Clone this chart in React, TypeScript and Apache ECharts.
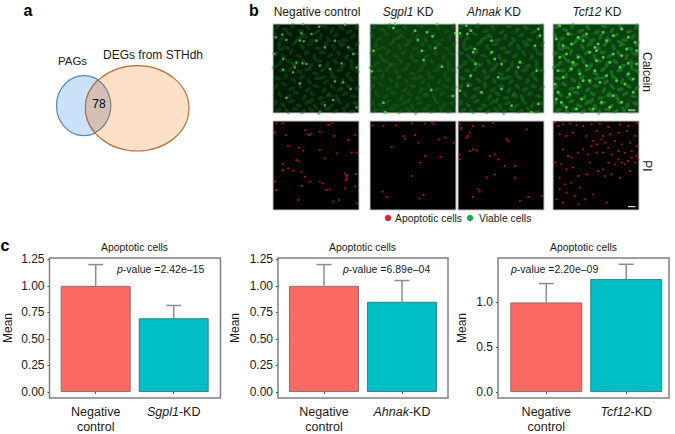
import React, { useEffect, useRef } from "react";
import * as echarts from "echarts";

const FONT = "'Liberation Sans', Arial, sans-serif";

// Panel c: bar charts
const comparisonNames = ["Sgpl1", "Ahnak", "Tcf12"];
const controlMean = [1.0, 1.0, 1.0];
const controlErrorTop = [1.2, 1.2, 1.21];
const knockdownMean = [0.695, 0.85, 1.26];
const knockdownErrorTop = [0.815, 1.05, 1.425];
const pValues = ["2.42e–15", "6.89e–04", "2.20e–09"];
const yTicksA = [0, 0.25, 0.5, 0.75, 1, 1.25];
const yTicksB = [0, 0.5, 1];

// Panel b: column and row names
const columnNames = ["Negative control", "Sgpl1", "Ahnak", "Tcf12"];
const vennCount = "78";

// Panel b: spots (field units, 257 x 267)
const calceinNegative = [[8,40],[28,32],[40,48],[4,90],[90,0],[138,8],[215,2],[85,28],[115,30],[80,50],[92,52],[130,50],[155,70],[185,50],[225,70],[240,90],[88,118],[100,120],[140,125],[30,137],[65,130],[60,145],[185,172],[210,175],[80,178],[40,222],[155,244],[180,228],[232,195],[140,265],[250,250],[30,105],[70,115],[205,118],[250,130],[170,135]];
const calceinSgpl1 = [[70,12],[135,20],[170,25],[187,37],[143,48],[10,80],[195,72],[155,80],[160,108],[215,128],[5,142],[183,198],[248,216],[40,236],[46,265],[200,0],[75,0],[255,28]];
const calceinAhnak = [[5,28],[25,5],[28,30],[38,20],[45,85],[50,75],[52,120],[100,85],[110,105],[130,120],[185,115],[230,65],[245,35],[240,15],[235,140],[38,155],[120,160],[30,185],[70,205],[160,245],[220,265],[240,240],[100,50],[180,130],[130,195],[5,200]];
const calceinTcf12 = [[10,45],[20,5],[30,65],[45,30],[55,60],[75,40],[90,50],[110,85],[125,70],[135,60],[150,25],[160,50],[180,35],[205,15],[225,40],[245,55],[250,80],[205,95],[225,118],[200,130],[170,115],[150,100],[125,140],[100,125],[60,115],[55,135],[20,100],[40,90],[15,140],[30,160],[80,150],[90,170],[75,190],[50,210],[15,205],[25,235],[10,225],[85,225],[110,170],[140,175],[160,155],[190,170],[215,180],[240,165],[180,215],[145,235],[170,250],[120,255],[70,255],[40,250],[240,205],[205,235],[225,150],[130,110],[5,180],[130,80],[100,30],[75,100],[180,90],[250,120],[220,75]];
const piNegative = [[10,7],[28,7],[5,35],[38,42],[97,27],[103,40],[110,42],[115,37],[140,32],[165,12],[175,7],[183,45],[225,57],[245,42],[45,75],[78,80],[90,89],[140,87],[190,97],[155,112],[235,95],[250,95],[70,117],[78,122],[30,129],[30,147],[45,142],[60,149],[85,152],[95,167],[110,182],[140,182],[150,187],[215,157],[222,162],[218,177],[248,159],[5,182],[10,207],[85,195],[160,207],[170,205],[75,237],[180,242],[198,237],[250,247],[215,202],[245,197],[218,165],[220,172]];
const piSgpl1 = [[8,13],[40,15],[78,13],[125,7],[165,8],[185,5],[100,45],[103,52],[135,42],[145,65],[205,55],[225,50],[250,65],[65,78],[165,105],[210,108],[150,125],[125,165],[38,212],[50,228],[148,232],[160,222],[190,10]];
const piAhnak = [[5,10],[10,25],[30,45],[35,35],[25,50],[45,15],[75,15],[105,5],[145,55],[205,25],[150,60],[35,90],[45,85],[55,88],[95,105],[110,100],[120,115],[5,115],[3,100],[170,135],[140,135],[110,160],[85,170],[170,170],[65,212],[45,228],[60,205],[210,228],[250,225],[185,240],[10,20]];
const piTcf12 = [[5,5],[15,15],[30,10],[50,8],[70,12],[90,15],[115,10],[140,8],[165,18],[200,10],[225,15],[250,5],[20,40],[40,45],[60,35],[100,45],[130,30],[150,45],[170,40],[195,35],[220,30],[245,45],[120,60],[130,70],[115,75],[145,55],[155,65],[165,80],[185,60],[205,70],[230,65],[250,75],[30,85],[45,105],[55,110],[75,95],[90,85],[105,100],[130,95],[150,95],[175,100],[195,90],[215,95],[235,90],[250,105],[195,115],[205,125],[215,130],[225,120],[235,110],[245,125],[255,115],[185,130],[165,125],[150,145],[135,150],[155,165],[175,160],[25,130],[40,145],[60,140],[20,170],[35,190],[55,185],[80,200],[20,205],[40,215],[65,225],[10,235],[30,245],[75,250],[95,235],[120,220],[160,245],[200,170],[230,150],[100,160],[75,165],[110,125],[5,125]];
// Dim elongated cell bodies behind the bright spots: x, y, angle
const cellBodies = [[12,9,40],[37,18,-30],[58,6,70],[83,21,15],[104,10,-55],[131,24,35],[152,7,-20],[176,19,60],[203,11,-40],[228,23,20],[249,8,75],[6,33,-65],[27,44,25],[49,30,-15],[72,47,50],[96,36,-35],[118,49,10],[142,38,65],[166,46,-50],[189,33,30],[214,48,-10],[240,37,55],[18,62,80],[41,71,-25],[63,58,35],[88,69,-60],[110,61,20],[134,73,-5],[157,60,45],[181,70,-70],[206,63,15],[231,74,-35],[252,60,60],[8,88,10],[31,97,-45],[54,84,65],[77,96,-20],[101,86,40],[124,99,-75],[148,85,5],[171,95,30],[196,87,-55],[220,99,70],[244,89,-15],[20,118,45],[44,110,-30],[67,122,15],[91,112,-65],[113,125,50],[138,111,-10],[162,121,75],[186,113,-40],[209,126,25],[235,114,-60],[5,128,30],[28,140,-5],[52,135,60],[79,143,-50],[103,136,20],[127,149,-25],[150,137,40],[175,147,-70],[199,139,10],[224,150,55],[250,140,-35],[14,163,-15],[38,156,70],[61,168,-40],[86,160,25],[109,172,-60],[133,163,5],[158,174,45],[183,161,-20],[207,172,65],[232,165,-45],[9,187,55],[33,181,-30],[56,194,15],[80,184,-75],[104,197,35],[128,186,-10],[152,199,60],[177,188,-50],[201,196,20],[226,187,-25],[251,192,40],[21,211,-55],[46,218,30],[69,206,-15],[94,220,65],[118,209,-35],[143,222,10],[166,211,50],[191,220,-65],[216,209,25],[241,217,-5],[7,236,70],[30,243,-40],[55,232,20],[78,245,-20],[102,235,45],[126,248,-60],[149,237,15],[174,246,35],[198,234,-45],[222,244,60],[247,238,-15],[16,258,25],[42,262,-50],[66,255,5],[90,263,40],[114,257,-30],[138,264,70],[162,256,-10],[187,262,30],[211,256,-55],[236,263,15],[60,120,-35],[150,160,20],[200,55,-25],[115,230,55],[25,75,5],[235,130,-70],[85,40,45],[170,215,-15]];

const micrographs = [
  { left: 273, top: 24, spots: calceinNegative, color: "#33d636", size: 2.6, base: "#031a06", body: "rgba(26,105,30,0.5)" },
  { left: 370, top: 24, spots: calceinSgpl1, color: "#45f046", size: 2.8, base: "#0a3c0e", body: "rgba(28,105,32,0.5)" },
  { left: 458, top: 24, spots: calceinAhnak, color: "#45f046", size: 2.8, base: "#0a380e", body: "rgba(32,120,36,0.55)" },
  { left: 553, top: 24, spots: calceinTcf12, color: "#4cf04e", size: 3, base: "#0b4210", body: "rgba(40,150,44,0.6)" },
  { left: 273, top: 121, spots: piNegative, color: "#e0141f", size: 2.2, base: "#000000", body: "" },
  { left: 370, top: 121, spots: piSgpl1, color: "#e0141f", size: 2.2, base: "#000000", body: "" },
  { left: 458, top: 121, spots: piAhnak, color: "#e0141f", size: 2.2, base: "#000000", body: "" },
  { left: 553, top: 121, spots: piTcf12, color: "#e0141f", size: 2.2, base: "#000000", body: "" },
];

const barPanels = [
  { left: 49.5, width: 171, ticks: yTicksA, decimals: 2, yMin: -0.056, yMax: 1.262, xMin: 0.408, xMax: 2.6, barW: 70, pX: 117, gap: 36 },
  { left: 278, width: 170, ticks: yTicksA, decimals: 2, yMin: -0.056, yMax: 1.262, xMin: 0.41, xMax: 2.59, barW: 70, pX: 343, gap: 37 },
  { left: 498, width: 171, ticks: yTicksB, decimals: 1, yMin: -0.066, yMax: 1.495, xMin: 0.396, xMax: 2.535, barW: 72, pX: 511, gap: 30 },
];

const lensPath = "M97.7 80 A27.5 30 0 0 1 95 132.7 A51.7 42.7 0 0 1 97.7 80 Z";
const blueArcPath = "M97.7 80 A27.5 30 0 0 1 95 132.7";
const orangeArcPath = "M95 132.7 A51.7 42.7 0 0 1 97.7 80";
echarts.graphic.registerShape("vennLens", echarts.graphic.extendPath(lensPath, {}));
echarts.graphic.registerShape("vennBlueArc", echarts.graphic.extendPath(blueArcPath, {}));
echarts.graphic.registerShape("vennOrangeArc", echarts.graphic.extendPath(orangeArcPath, {}));

const label = (text: string, x: number, y: number, extra: any = {}, rich?: any) => ({
  type: "text",
  x,
  y,
  rotation: extra.rotation ?? 0,
  silent: true,
  style: {
    text,
    fontFamily: FONT,
    fontSize: extra.fontSize ?? 12,
    fontWeight: extra.fontWeight ?? "normal",
    fill: extra.fill ?? "#1a1a1a",
    align: extra.align ?? "center",
    verticalAlign: "middle",
    rich,
  },
});

const italicRich = (size: number) => ({
  i: { fontStyle: "italic", fontFamily: FONT, fontSize: size, fill: "#1a1a1a", color: "#1a1a1a" },
});

function buildOption() {
  const grid: any[] = [];
  const xAxis: any[] = [];
  const yAxis: any[] = [];
  const series: any[] = [];

  micrographs.forEach((m, i) => {
    grid.push({
      left: m.left, top: m.top, width: 86, height: 89, show: true,
      backgroundColor: m.base, borderColor: "#c4c4c4", borderWidth: 1,
    });
    xAxis.push({ type: "value", gridIndex: i, min: 0, max: 257, show: false });
    yAxis.push({ type: "value", gridIndex: i, min: 0, max: 267, inverse: true, show: false });
    if (m.body) {
      series.push({
        type: "scatter", xAxisIndex: i, yAxisIndex: i, data: cellBodies,
        symbol: "circle", symbolSize: [7, 3.6], symbolRotate: (v: number[]) => v[2],
        itemStyle: { color: m.body }, silent: true,
      });
    }
    series.push({
      type: "scatter", xAxisIndex: i, yAxisIndex: i, data: m.spots, symbolSize: m.size,
      itemStyle: { color: m.color }, silent: true,
    });
  });

  barPanels.forEach((p, k) => {
    const i = micrographs.length + k;
    const name = comparisonNames[k];
    grid.push({
      left: p.left, top: 258, width: p.width, height: 142, show: true,
      backgroundColor: "#ffffff", borderColor: "#808080", borderWidth: 1.5,
    });
    xAxis.push({
      type: "value", gridIndex: i, min: p.xMin, max: p.xMax, splitLine: { show: false },
      axisLine: { show: false },
      axisTick: { show: true, length: 2, customValues: [1, 2], lineStyle: { color: "#555" } },
      axisLabel: {
        customValues: [1, 2], margin: 6, hideOverlap: false, showMinLabel: true, showMaxLabel: true,
        fontFamily: FONT, fontSize: 12.5, color: "#1a1a1a", lineHeight: 15,
        formatter: (v: number) => (v === 1 ? "Negative\ncontrol" : `{i|${name}}-KD`),
        rich: { i: { fontStyle: "italic", fontFamily: FONT, fontSize: 12.5, color: "#1a1a1a" } },
      },
    });
    yAxis.push({
      type: "value", gridIndex: i, min: p.yMin, max: p.yMax, splitLine: { show: false },
      axisLine: { show: false },
      axisTick: { show: true, length: 2, customValues: p.ticks, lineStyle: { color: "#555" } },
      axisLabel: {
        customValues: p.ticks, margin: 5, fontFamily: FONT, fontSize: 12, color: "#1a1a1a",
        formatter: (v: number) => v.toFixed(p.decimals),
      },
      name: "Mean", nameLocation: "middle", nameGap: p.gap,
      nameTextStyle: { fontFamily: FONT, fontSize: 12, color: "#1a1a1a" },
    });
    series.push({
      type: "bar", xAxisIndex: i, yAxisIndex: i, barWidth: p.barW, silent: true,
      data: [
        { value: [1, controlMean[k]], itemStyle: { color: "#fb6a63", borderColor: "#8a7070", borderWidth: 1 } },
        { value: [2, knockdownMean[k]], itemStyle: { color: "#00bfc4", borderColor: "#3f7f80", borderWidth: 1 } },
      ],
    });
    series.push({
      type: "custom", xAxisIndex: i, yAxisIndex: i, silent: true, clip: false,
      encode: { x: 0, y: 1 },
      data: [
        [1, controlErrorTop[k], controlMean[k]],
        [2, knockdownErrorTop[k], knockdownMean[k]],
      ],
      renderItem: (_: any, api: any) => {
        const top = api.coord([api.value(0), api.value(1)]);
        const base = api.coord([api.value(0), api.value(2)]);
        const style = { stroke: "#8c8c8c", lineWidth: 1.5, fill: "none" };
        return {
          type: "group",
          children: [
            { type: "line", shape: { x1: top[0], y1: top[1], x2: base[0], y2: base[1] }, style },
            { type: "line", shape: { x1: top[0] - 7.5, y1: top[1], x2: top[0] + 7.5, y2: top[1] }, style },
          ],
        };
      },
    });
  });

  const graphic: any[] = [
    label("a", 28, 10, { fontSize: 16, fontWeight: "bold", fill: "#000" }),
    label("b", 254, 10, { fontSize: 16, fontWeight: "bold", fill: "#000" }),
    label("c", 5, 245, { fontSize: 16, fontWeight: "bold", fill: "#000" }),
    { type: "ellipse", shape: { cx: 84, cy: 105.7, rx: 27.5, ry: 30 }, style: { fill: "#c9e2fa", stroke: "#5b86b5", lineWidth: 1.2 } },
    { type: "ellipse", shape: { cx: 137.3, cy: 108.3, rx: 51.7, ry: 42.7 }, style: { fill: "#fde0c8", stroke: "#bd6f3c", lineWidth: 1.2 } },
    { type: "vennLens", style: { fill: "#d4bfb5", stroke: "none" } },
    { type: "vennBlueArc", style: { fill: "none", stroke: "#6f7f90", lineWidth: 1.2 } },
    { type: "vennOrangeArc", style: { fill: "none", stroke: "#ab6d45", lineWidth: 1.2 } },
    label("PAGs", 72.5, 61, { fontSize: 11.5 }),
    label("DEGs from STHdh", 153, 55, { fontSize: 12 }),
    label(vennCount, 99, 104, { fontSize: 12, fill: "#000" }),
    label(columnNames[0], 317, 12),
    label(`{i|${columnNames[1]}} KD`, 408, 12, {}, italicRich(12)),
    label(`{i|${columnNames[2]}} KD`, 494, 12, {}, italicRich(12)),
    label(`{i|${columnNames[3]}} KD`, 597, 12, {}, italicRich(12)),
    label("Calcein", 647, 72, { rotation: -Math.PI / 2 }),
    label("PI", 647, 166, { rotation: -Math.PI / 2 }),
    { type: "rect", shape: { x: 628, y: 109.5, width: 7.5, height: 1.2 }, style: { fill: "#dddddd" } },
    { type: "rect", shape: { x: 628, y: 206, width: 7.5, height: 1.2 }, style: { fill: "#dddddd" } },
    { type: "circle", shape: { cx: 388, cy: 218, r: 3.2 }, style: { fill: "#ee1c25" } },
    label("Apoptotic cells", 395, 218, { fontSize: 10.4, align: "left" }),
    { type: "circle", shape: { cx: 470, cy: 218, r: 3.2 }, style: { fill: "#0fb14f" } },
    label("Viable cells", 479, 218, { fontSize: 10.4, align: "left" }),
  ];
  barPanels.forEach((p, k) => {
    graphic.push(label("Apoptotic cells", p.left + p.width / 2 - (k === 2 ? 0 : 0.5), 247, { fontSize: 10.4 }));
    graphic.push(label(`{i|p}-value =${pValues[k]}`, p.pX, 269, { fontSize: 10.5, align: "left" }, italicRich(10.5)));
  });

  return { animation: false, backgroundColor: "#ffffff", grid, xAxis, yAxis, series, graphic };
}

export default function App() {
  const ref = useRef<HTMLDivElement>(null);
  useEffect(() => {
    const chart = echarts.init(ref.current!, undefined, { renderer: "svg" });
    chart.setOption(buildOption() as any);
    return () => chart.dispose();
  }, []);
  return <div ref={ref} style={{ position: "absolute", left: 0, top: 0, width: 675, height: 434 }} />;
}
